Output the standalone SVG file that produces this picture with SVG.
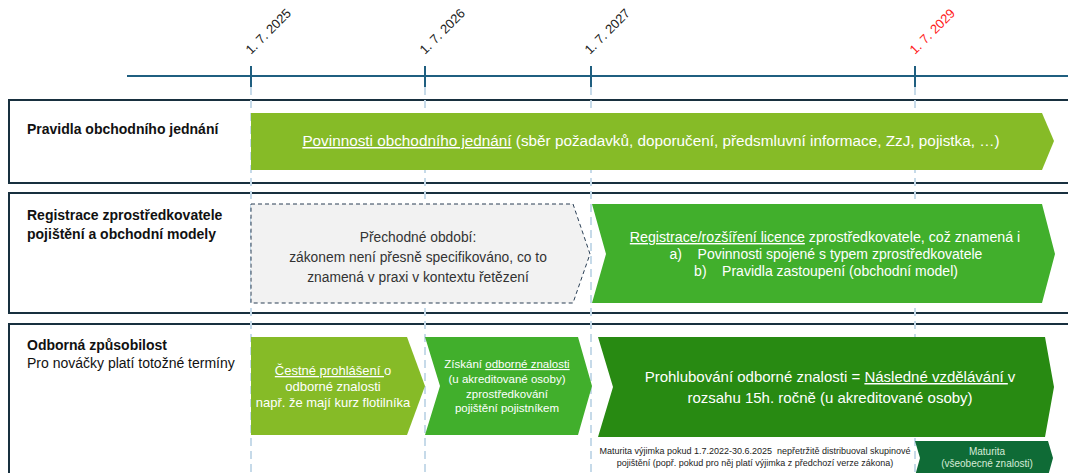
<svg xmlns="http://www.w3.org/2000/svg" width="1068" height="473" viewBox="0 0 1068 473">
<style>
text{font-family:"Liberation Sans",Arial,sans-serif}
.row{fill:#fff;stroke:#18303f;stroke-width:2}
.lbl{font-size:14px;font-weight:bold;fill:#111}
.lblr{font-size:14px;fill:#111}
.vd{stroke:#c6dae9;stroke-width:2;stroke-dasharray:8 5}
.tick{stroke:#1f5f80;stroke-width:2}
.date{font-size:13px;fill:#222}
.w{fill:#fff;text-anchor:middle}
.u{text-decoration:underline}
</style>
<g id="timeline">
<line x1="127" y1="76" x2="1068" y2="76" class="tick"/>
<line x1="251" y1="66" x2="251" y2="87" class="tick"/>
<line x1="425" y1="66" x2="425" y2="87" class="tick"/>
<line x1="591" y1="66" x2="591" y2="87" class="tick"/>
<line x1="915" y1="66" x2="915" y2="87" class="tick"/>
<text class="date" transform="translate(251,55) rotate(-45)">1. 7. 2025</text>
<text class="date" transform="translate(425,55) rotate(-45)">1. 7. 2026</text>
<text class="date" transform="translate(590,55) rotate(-45)">1. 7. 2027</text>
<text class="date" transform="translate(915,55) rotate(-45)" style="fill:#ff1a1a">1. 7. 2029</text>
</g>
<g id="row1">
<rect class="row" x="9" y="100" width="1070" height="83"/>
<text class="lbl" x="27" y="134">Pravidla obchodního jednání</text>
</g>
<g id="row2">
<rect class="row" x="9" y="193" width="1070" height="120"/>
<text class="lbl" x="27" y="220">Registrace zprostředkovatele</text>
<text class="lbl" x="27" y="239">pojištění a obchodní modely</text>
</g>
<g id="row3">
<rect class="row" x="9" y="324" width="1070" height="160"/>
<text class="lbl" x="27" y="350">Odborná způsobilost</text>
<text class="lblr" x="27" y="368">Pro nováčky platí totožné termíny</text>
</g>
<g id="connectors">
<line x1="251" y1="87" x2="251" y2="473" class="vd"/>
<line x1="425" y1="87" x2="425" y2="473" class="vd"/>
<line x1="591" y1="87" x2="591" y2="473" class="vd"/>
<line x1="915" y1="87" x2="915" y2="473" class="vd"/>
</g>
<g id="obchodni-jednani">
<polygon points="251,113 1042,113 1054,141 1042,170 251,170" fill="#86bb27"/>
<text class="w" x="651" y="146" style="font-size:15.3px"><tspan class="u">Povinnosti obchodního jednání</tspan> (sběr požadavků, doporučení, předsmluvní informace, ZzJ, pojistka, …)</text>
</g>
<g id="prechodne-obdobi">
<polygon points="251,204 573,204 590,254 573,303 251,303" fill="#f2f2f2" stroke="#2a3f55" stroke-width="1" stroke-dasharray="4 3"/>
<text x="418" y="242" style="font-size:13.8px;fill:#333;text-anchor:middle">Přechodné období:</text>
<text x="418" y="262" style="font-size:13.8px;fill:#333;text-anchor:middle">zákonem není přesně specifikováno, co to</text>
<text x="418" y="282" style="font-size:13.8px;fill:#333;text-anchor:middle">znamená v praxi v kontextu řetězení</text>
</g>
<g id="registrace">
<polygon points="592,204 1042,204 1055,254 1042,303 592,303 606,254" fill="#41af2c"/>
<text class="w" x="825" y="242" style="font-size:14.2px"><tspan class="u">Registrace/rozšíření licence</tspan> zprostředkovatele, což znamená i</text>
<text class="w" x="826" y="259" style="font-size:14px;white-space:pre">a)    Povinnosti spojené s typem zprostředkovatele</text>
<text class="w" x="826" y="276" style="font-size:14px;white-space:pre">b)    Pravidla zastoupení (obchodní model)</text>
</g>
<g id="cestne-prohlaseni">
<polygon points="251,337 407,337 425,386 407,435 251,435" fill="#86bb27"/>
<text class="w" x="333" y="375" style="font-size:13px"><tspan class="u">Čestné prohlášení </tspan>o</text>
<text class="w" x="333" y="391" style="font-size:13px">odborné znalosti</text>
<text class="w" x="333" y="407" style="font-size:13px">např. že mají kurz flotilníka</text>
</g>
<g id="ziskani">
<polygon points="425,337 578,337 592,386 578,435 425,435 440,386" fill="#41af2c"/>
<text class="w" x="507" y="368" style="font-size:11.5px">Získání <tspan class="u">odborné znalosti</tspan></text>
<text class="w" x="507" y="383" style="font-size:11.5px">(u akreditované osoby)</text>
<text class="w" x="507" y="398" style="font-size:11.5px">zprostředkování</text>
<text class="w" x="507" y="412" style="font-size:11.5px">pojištění pojistníkem</text>
</g>
<g id="prohlubovani">
<polygon points="598,337 1045,337 1054,387 1045,437 598,437 613,387" fill="#288a12"/>
<text class="w" x="830" y="382" style="font-size:15px">Prohlubování odborné znalosti = <tspan class="u">Následné vzdělávání </tspan>v</text>
<text class="w" x="830" y="403" style="font-size:15px">rozsahu 15h. ročně (u akreditované osoby)</text>
</g>
<g id="vyjimka">
<text x="755" y="454" style="font-size:9px;fill:#222;text-anchor:middle;white-space:pre">Maturita výjimka pokud 1.7.2022-30.6.2025  nepřetržitě distribuoval skupinové</text>
<text x="755" y="466" style="font-size:9px;fill:#222;text-anchor:middle">pojištění (popř. pokud pro něj platí výjimka z předchozí verze zákona)</text>
</g>
<g id="maturita">
<polygon points="915,441 1048,441 1053,458 1048,476 915,476 920,458" fill="#0f6b36"/>
<text x="987" y="455" style="font-size:10px;fill:#d6ecd6;text-anchor:middle">Maturita</text>
<text x="987" y="467" style="font-size:10px;fill:#d6ecd6;text-anchor:middle">(všeobecné znalosti)</text>
</g>
</svg>
